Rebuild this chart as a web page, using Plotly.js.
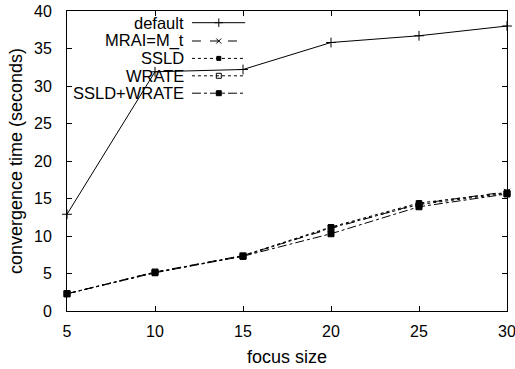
<!DOCTYPE html>
<html><head><meta charset="utf-8">
<script src="https://cdn.plot.ly/plotly-3.0.1.min.js"></script>
<style>html,body{margin:0;padding:0;background:#fff}#chart{width:515px;height:369px}</style>
</head><body><div id="chart"></div>
<script>
const focusSize = [5, 10, 15, 20, 25, 30];
const seriesNames = ["default", "MRAI=M_t", "SSLD", "WRATE", "SSLD+WRATE"];
const defaultTime = [12.9, 31.9, 32.2, 35.8, 36.7, 38.0];
const mraiTime = [2.3, 5.2, 7.4, 11.0, 14.3, 15.9];
const ssldTime = [2.3, 5.1, 7.4, 11.2, 14.4, 15.8];
const wrateTime = [2.3, 5.2, 7.3, 11.1, 14.2, 15.7];
const ssldWrateTime = [2.3, 5.1, 7.3, 10.3, 13.9, 15.6];
const xTicks = [5, 10, 15, 20, 25, 30];
const yTicks = [0, 5, 10, 15, 20, 25, 30, 35, 40];

const values = [defaultTime, mraiTime, ssldTime, wrateTime, ssldWrateTime];
const styles = [
  {dash: 'solid', symbol: 'cross-thin-open', size: 7},
  {dash: 'dash', symbol: 'x-thin-open', size: 6},
  {dash: 'dot', symbol: 'square', size: 5},
  {dash: 'dot', symbol: 'square-open', size: 6},
  {dash: 'dashdot', symbol: 'square', size: 6}
];
const traces = [];
values.forEach((v, i) => {
  const s = styles[i];
  traces.push({
    x: focusSize, y: v, type: 'scatter', mode: 'lines+markers', name: seriesNames[i],
    line: {color: '#000', width: 1, dash: s.dash},
    marker: {symbol: s.symbol, size: s.size, color: '#000', line: {color: '#000', width: 1}},
    showlegend: false, hoverinfo: 'skip', cliponaxis: false
  });
});
// custom legend (text on left, sample on right), drawn on an overlay axis in paper-like units
const legX0 = 0.284, legX1 = 0.405, legXm = 0.345;
const legRows = [0.961, 0.9, 0.842, 0.784, 0.726];
const annotations = [];
seriesNames.forEach((n, i) => {
  const s = styles[i];
  traces.push({
    x: [legX0, legXm, legX1], y: [legRows[i], legRows[i], legRows[i]], xaxis: 'x2', yaxis: 'y2',
    type: 'scatter', mode: 'lines+markers',
    line: {color: '#000', width: 1, dash: s.dash},
    marker: {symbol: s.symbol, size: s.size - 1, color: '#000', opacity: [0, 1, 0], line: {color: '#000', width: 1}},
    showlegend: false, hoverinfo: 'skip'
  });
  annotations.push({
    xref: 'paper', yref: 'paper', x: 0.268, y: legRows[i], xanchor: 'right', yanchor: 'middle',
    borderpad: 0,
    text: n, showarrow: false, font: {family: 'Liberation Sans, Arial, sans-serif', size: 16.5, color: '#000'}
  });
});

const family = 'Liberation Sans, Arial, sans-serif';
const tickFont = {family: family, size: 16, color: '#000'};
const titleFont = {family: family, size: 18, color: '#000'};
const layout = {
  width: 515, height: 369,
  margin: {l: 67, r: 8, t: 11, b: 58},
  paper_bgcolor: '#fff', plot_bgcolor: '#fff',
  font: tickFont,
  showlegend: false,
  xaxis: {
    range: [5, 30], tickvals: xTicks, ticks: 'inside', ticklen: 5, tickcolor: '#000',
    showline: true, linecolor: '#000', linewidth: 1, mirror: 'ticks', showgrid: false, zeroline: false,
    ticklabelstandoff: 6, ticklabeloverflow: 'allow',
    title: {text: 'focus size', font: titleFont, standoff: 11}, tickfont: tickFont
  },
  yaxis: {
    range: [0, 40], tickvals: yTicks, ticks: 'inside', ticklen: 5, tickcolor: '#000',
    showline: true, linecolor: '#000', linewidth: 1, mirror: 'ticks', showgrid: false, zeroline: false,
    ticklabelstandoff: 11, ticklabeloverflow: 'allow',
    title: {text: 'convergence time (seconds)', font: titleFont, standoff: 6}, tickfont: tickFont
  },
  xaxis2: {overlaying: 'x', range: [0, 1], visible: false, fixedrange: true},
  yaxis2: {overlaying: 'y', range: [0, 1], visible: false, fixedrange: true},
  annotations: annotations
};
Plotly.newPlot('chart', traces, layout, {displayModeBar: false, staticPlot: true});
</script></body></html>
